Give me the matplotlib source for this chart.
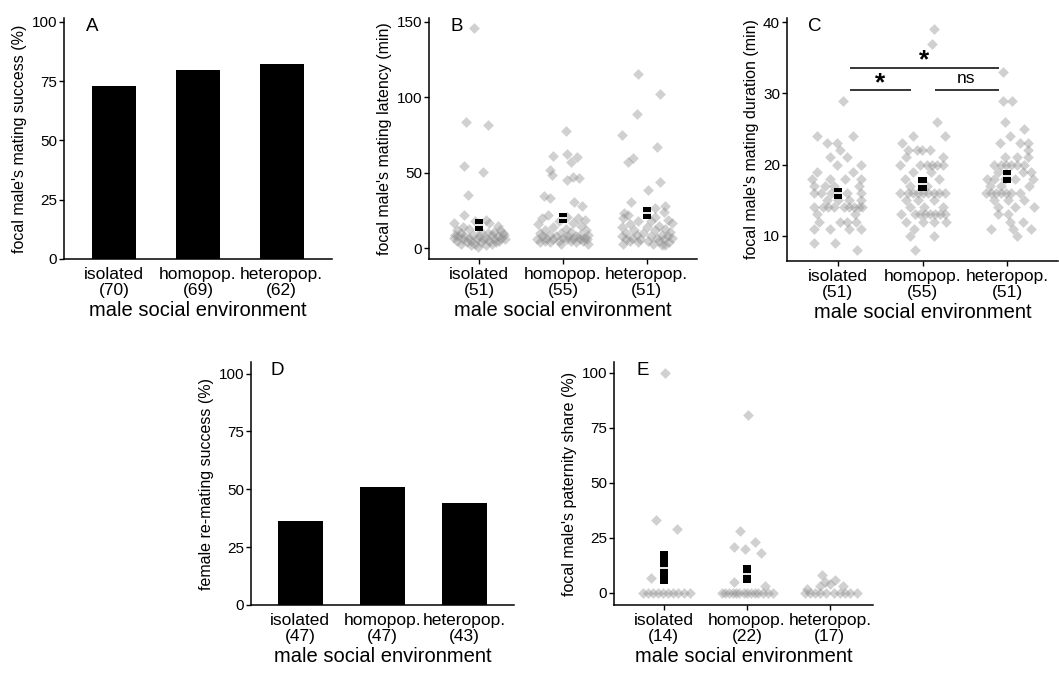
import matplotlib
matplotlib.use("Agg")
import matplotlib.pyplot as plt

plt.rcParams['font.family'] = ['Liberation Sans', 'DejaVu Sans']

groups = ['isolated', 'homopop.', 'heteropop.']

# panel A: focal male's mating success (%)
a_n = [70, 69, 62]
a_success = [72.9, 79.7, 82.3]

# panel D: female re-mating success (%)
d_n = [47, 47, 43]
d_success = [36.2, 51.1, 44.2]

# panel B: mating latency (min), values and jitter
b_n = [51, 55, 51]
b_iso = [145.7, 83.4, 81.4, 54.3, 50.4, 35.6, 22.4,
         16.5, 18, 17, 15, 14, 19, 13, 12, 12, 11, 11, 10, 10, 10, 9, 9, 9, 9, 8, 8,
         8, 8, 7, 7, 7, 7, 6, 6, 6, 6, 5, 5, 5, 5, 4, 4, 4, 3, 3, 3, 2, 2, 1, 6]
b_iso_jit = [-0.06, -0.16, 0.11, -0.18, 0.04, -0.13, -0.18,
             -0.30, -0.05, 0.12, 0.22, -0.2, 0.08, -0.12, 0.25, -0.26, 0.02, 0.18, -0.22, 0.10, 0.28,
             -0.29, -0.08, 0.15, 0.30, -0.18, 0.00, 0.22, -0.25, -0.12, 0.08, 0.26, -0.3, -0.20, 0.05,
             0.18, 0.31, -0.27, -0.1, 0.12, 0.24, -0.15, 0.02, 0.2, -0.22, -0.05, 0.15, -0.1, 0.08,
             -0.02, -0.03]
b_homo = [77.4, 61.4, 62.7, 60.5, 57, 51.7, 48.8, 45.5, 46.7, 47.3, 34.5, 33.5, 30.6, 28.4,
          22, 21, 20, 20, 19, 18, 17, 16, 15, 14, 13, 12, 12, 11, 10, 10, 9, 9, 9, 8,
          8, 8, 8, 7, 7, 7, 7, 6, 6, 6, 6, 6, 5, 5, 5, 5, 4, 4, 4, 3, 3]
b_homo_jit = [0.03, -0.12, 0.05, 0.17, 0.10, -0.15, -0.13, 0.05, 0.19, 0.12, -0.23, -0.15, 0.13, 0.23,
              -0.18, 0.05, 0.18, -0.25, 0.26, -0.05, 0.12, -0.3, 0.22, -0.12,
              0.03, -0.22, 0.28, 0.1, -0.28, -0.02, 0.2, -0.15, 0.3, 0.06,
              -0.25, 0.15, -0.08, 0.25, -0.2, 0.0, 0.12, -0.31, -0.12, 0.05,
              0.2, 0.29, -0.22, -0.05, 0.1, 0.24, -0.28, -0.15, 0.16, -0.02, 0.3]
b_hetero = [115.5, 102.1, 89.1, 75.2, 67.1, 59.9, 57.0, 43.8, 38.9, 30.6, 28.4, 23.6, 26.9, 2,
            24, 22, 21, 20, 19, 18, 18, 17, 16, 15, 14, 14, 13, 12, 12, 11, 10, 10, 9, 9,
            8, 8, 8, 7, 7, 7, 6, 6, 6, 5, 5, 5, 4, 4, 3, 3, 2]
b_hetero_jit = [-0.10, 0.16, -0.12, -0.29, 0.12, -0.16, -0.22, 0.16, 0.01, -0.19, 0.22, -0.27, 0.10, 0.22,
                0.2, -0.22, 0.1, -0.28, 0.25, -0.1, 0.05, 0.3, -0.2, 0.15,
                -0.3, 0.0, 0.22, -0.15, 0.1, 0.28, -0.25, -0.05, 0.18, -0.12,
                0.05, 0.25, -0.3, -0.18, 0.12, 0.3, -0.08, 0.2, -0.25, 0.02,
                0.15, -0.2, -0.1, 0.26, -0.28, 0.08, 0.18]
b_mean = [15.6, 20.0, 23.3]
b_se = [4.0, 3.5, 3.8]

# panel C: mating duration (min)
c_n = [51, 55, 51]
c_iso = [24, 24, 23, 23, 22, 21, 21, 20, 20, 19, 19, 18, 18, 18, 17, 17, 17, 17,
         16, 16, 16, 16, 15, 15, 15, 14, 14, 14, 14, 14, 14, 14, 14, 14,
         13, 12, 12, 11, 11, 12, 11, 11, 12, 9, 9, 8, 29, 16, 13, 18, 15]
c_iso_jit = [-0.24, 0.18, -0.13, -0.01, 0.03, -0.09, 0.11, -0.01, 0.27, -0.24, 0.18, -0.09, 0.08, 0.27,
             -0.28, -0.15, -0.05, 0.25, -0.28, -0.2, 0.11, 0.27, -0.13, 0.13, 0.27,
             -0.28, -0.17, -0.11, -0.05, 0.07, 0.13, 0.19, 0.25, 0.29,
             -0.25, -0.22, 0.11, -0.28, -0.09, 0.03, 0.13, 0.27, 0.21, -0.28, -0.03, 0.23, 0.06,
             -0.08, 0.2, -0.3, 0.0]
c_homo = [39, 37, 26, 24, 24, 23, 22, 22, 22, 22, 21, 20, 20, 20, 20, 20, 20, 19, 18, 18, 17,
          16, 16, 16, 16, 16, 16, 16, 16, 16, 15, 15, 14, 14, 13, 13, 13, 13, 13, 13, 13,
          12, 12, 12, 10, 10, 8, 21, 19, 17, 15, 14, 12, 11, 13]
c_homo_jit = [0.14, 0.11, 0.17, -0.11, 0.26, -0.24, -0.17, -0.07, -0.01, 0.09, 0.24,
              -0.27, -0.03, 0.05, 0.11, 0.17, 0.24, -0.11, -0.21, 0.2, -0.15,
              -0.27, -0.17, -0.11, -0.05, 0.01, 0.07, 0.13, 0.19, 0.26, -0.2, 0.13, -0.15, 0.24,
              -0.25, -0.09, -0.03, 0.03, 0.09, 0.15, 0.21, 0.01, 0.13, 0.28, -0.15, 0.13, -0.09,
              -0.2, 0.1, 0.05, -0.05, 0.02, -0.2, -0.1, 0.27]
c_hetero = [33, 29, 29, 26, 25, 24, 23, 23, 23, 22, 21, 21, 20, 20, 20, 20, 20, 20,
            19, 19, 19, 18, 18, 18, 18, 18, 17, 17, 16, 16, 16, 16, 16, 16, 16,
            15, 15, 15, 14, 14, 14, 13, 13, 12, 12, 11, 11, 11, 10, 21, 17]
c_hetero_jit = [-0.05, -0.05, 0.06, -0.03, 0.2, 0.03, -0.08, 0.15, 0.24, 0.24, -0.03, 0.24,
                -0.15, -0.07, -0.01, 0.05, 0.11, 0.2, -0.11, 0.19, 0.28,
                -0.24, -0.15, -0.03, 0.09, 0.3, -0.07, 0.26,
                -0.25, -0.19, -0.13, -0.07, -0.01, 0.05, 0.15,
                -0.15, 0.01, 0.2, -0.11, 0.09, 0.32, -0.11, 0.01, 0.03, 0.19,
                -0.19, 0.07, 0.28, 0.11, 0.12, -0.2]
c_mean = [15.95, 17.3, 18.35]
c_se = [0.8, 1.0, 0.9]

# panel E: paternity share (%)
e_n = [14, 22, 17]
e_iso = [100, 33, 29, 7, 0, 0, 0, 0, 0, 0, 0, 0, 0, 0]
e_iso_jit = [0.02, -0.09, 0.16, -0.15, -0.25, -0.19, -0.13, -0.07, -0.01, 0.05, 0.11, 0.17, 0.24, 0.31]
e_homo = [81, 28, 21, 20, 23, 18, 5, 3, 0, 0, 0, 0, 0, 0, 0, 0, 0, 0, 0, 0, 0, 0]
e_homo_jit = [0.02, -0.08, -0.16, -0.02, 0.1, 0.165, -0.16, 0.22,
              -0.3, -0.26, -0.22, -0.17, -0.13, -0.09, -0.04, 0.0, 0.05, 0.1, 0.14, 0.19, 0.25, 0.32]
e_hetero = [8, 5, 6, 2, 3, 3, 4, 0, 0, 0, 0, 0, 0, 0, 0, 0, 0]
e_hetero_jit = [-0.1, -0.06, 0.06, -0.28, -0.12, 0.16, 0.0,
                -0.3, -0.24, -0.18, -0.12, -0.05, 0.05, 0.12, 0.18, 0.24, 0.33]
e_mean = [11.5, 8.7]
e_se = [7.4, 4.1]

W, H = 1059, 679
fig = plt.figure(figsize=(W / 100, H / 100), dpi=100)


def make_ax(left, top, right, bottom):
    ax = fig.add_axes([left / W, 1 - bottom / H, (right - left) / W, (bottom - top) / H])
    for s in ['top', 'right']:
        ax.spines[s].set_visible(False)
    for s in ['left', 'bottom']:
        ax.spines[s].set_linewidth(1.1)
    ax.tick_params(axis='y', labelsize=11, length=3.5, width=1.0, pad=1.5)
    ax.set_xlim(-0.6, 2.6)
    return ax


def xlabels(ax, ns, ticks=True):
    ax.set_xticks(range(3))
    ax.set_xticklabels([f"{g}\n({n})" for g, n in zip(groups, ns)], linespacing=1.1)
    if ticks:
        ax.tick_params(axis='x', labelsize=12.5, length=3.5, width=1.0, pad=2)
    else:
        ax.tick_params(axis='x', labelsize=12.5, length=0, pad=5.5)
    ax.set_xlabel('male social environment', fontsize=14.5, labelpad=2)


def letter(ax, s, dx_px):
    w = ax.get_position().width * W
    ax.text(dx_px / w, 1.0, s, transform=ax.transAxes, fontsize=13.5, va='top', ha='left')


def scatter_group(ax, vals_list, jit_list):
    for i, (v, j) in enumerate(zip(vals_list, jit_list)):
        ax.scatter([i + d for d in j], v, marker='D', s=30, color='#8a8a8a', alpha=0.4,
                   linewidths=0, zorder=2)


def mean_box(ax, means, ses):
    for i, (m, se) in enumerate(zip(means, ses)):
        ax.bar(i, 2 * se, bottom=m - se, width=0.1, color='black', zorder=3)
        ax.hlines(m, i - 0.05, i + 0.05, color='white', lw=1.3, zorder=4)


# A
ax = make_ax(64, 18, 332, 259)
ax.bar(range(3), a_success, width=0.52, color='black')
ax.set_ylim(0, 101.6)
ax.set_yticks([0, 25, 50, 75, 100])
ax.set_ylabel("focal male's mating success (%)", fontsize=11.5, labelpad=3)
xlabels(ax, a_n, ticks=False)
letter(ax, 'A', 22)

# B
ax = make_ax(429, 18, 697, 259)
scatter_group(ax, [b_iso, b_homo, b_hetero], [b_iso_jit, b_homo_jit, b_hetero_jit])
mean_box(ax, b_mean, b_se)
ax.set_ylim(-7, 152.5)
ax.set_yticks([0, 50, 100, 150])
ax.set_ylabel("focal male's mating latency (min)", fontsize=11.5, labelpad=3)
xlabels(ax, b_n)
letter(ax, 'B', 21)

# C
ax = make_ax(787, 18, 1058, 261)
scatter_group(ax, [c_iso, c_homo, c_hetero], [c_iso_jit, c_homo_jit, c_hetero_jit])
mean_box(ax, c_mean, c_se)
ax.set_ylim(6.45, 40.6)
ax.set_yticks([10, 20, 30, 40])
ax.set_ylabel("focal male's mating duration (min)", fontsize=11.5, labelpad=3)
xlabels(ax, c_n)
letter(ax, 'C', 21)
ax.hlines(33.6, 0.14, 1.9, color='black', lw=1.1)
ax.hlines(30.5, 0.14, 0.86, color='black', lw=1.1)
ax.hlines(30.5, 1.15, 1.9, color='black', lw=1.1)
ax.text(1.02, 32.9, '*', fontsize=19, fontweight='bold', ha='center', va='bottom')
ax.text(0.5, 29.8, '*', fontsize=19, fontweight='bold', ha='center', va='bottom')
ax.text(1.52, 31.0, 'ns', fontsize=12.5, ha='center', va='bottom')

# D
ax = make_ax(251, 362, 514, 605)
ax.bar(range(3), d_success, width=0.54, color='black')
ax.set_ylim(0, 105)
ax.set_yticks([0, 25, 50, 75, 100])
ax.set_ylabel("female re-mating success (%)", fontsize=11.5, labelpad=3)
xlabels(ax, d_n, ticks=False)
letter(ax, 'D', 20)

# E
ax = make_ax(614, 362, 873, 605)
scatter_group(ax, [e_iso, e_homo, e_hetero], [e_iso_jit, e_homo_jit, e_hetero_jit])
mean_box(ax, e_mean, e_se)
ax.set_xlim(-0.6, 2.52)
ax.set_ylim(-5.5, 105)
ax.set_yticks([0, 25, 50, 75, 100])
ax.set_ylabel("focal male's paternity share (%)", fontsize=11.5, labelpad=3)
xlabels(ax, e_n)
letter(ax, 'E', 22)

fig.savefig('out.png', dpi=100)
